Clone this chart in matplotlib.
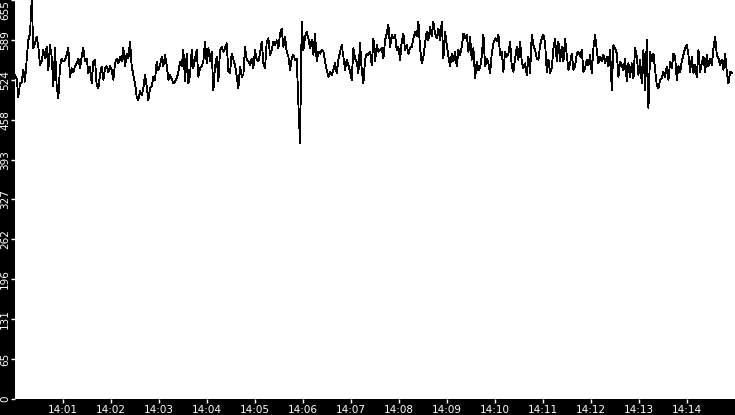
import numpy as np
import pandas as pd
import matplotlib
matplotlib.use("Agg")
import matplotlib.pyplot as plt
import matplotlib.dates as mdates

# samples, in order (about 2 s apart)
seg1 = [532, 526, 496, 518, 520, 540, 521, 557, 589, 600, 655, 576, 584, 595, 578, 548, 554, 573,
        559, 578, 540, 581, 562, 513, 576, 513, 494, 546, 559, 554, 557, 565, 576, 529, 543, 537,
        546, 551, 559, 543, 562, 576, 554, 559, 535, 546, 518, 554, 557, 515, 510, 532, 546, 524,
        543, 546, 537, 546, 540, 524, 551, 559, 551, 562, 554, 576, 546, 567, 559, 587, 546, 532,
        518, 496, 491, 505, 499, 510, 532, 513, 491, 510, 513, 529, 524, 554, 540, 548, 562, 546]
seg2 = [565, 548, 524, 532, 526, 518, 521, 526, 537, 554, 546, 573, 521, 567, 518, 532, 573, 543,
        559, 573, 529, 543, 546, 554, 587, 551, 576, 554, 570, 507, 546, 562, 521, 573, 578, 570,
        576, 584, 537, 535, 567, 557, 548, 529, 510, 546, 529, 532, 578, 557, 554, 548, 559, 543,
        573, 557, 554, 567, 587, 551, 543, 587, 592, 565, 573, 587, 581, 589, 576, 600, 608, 578,
        595, 570, 562, 540, 559, 565, 557, 559, 485, 420, 619, 573, 595, 603, 592, 576, 589, 565]
seg3 = [600, 554, 570, 567, 573, 570, 554, 540, 529, 537, 532, 540, 551, 535, 557, 570, 581, 562,
        540, 557, 548, 537, 524, 576, 559, 554, 535, 584, 540, 518, 557, 567, 565, 570, 548, 592,
        554, 581, 570, 573, 576, 559, 589, 600, 614, 578, 598, 592, 598, 573, 578, 557, 587, 600,
        573, 581, 567, 576, 578, 592, 603, 595, 619, 576, 551, 562, 584, 603, 589, 611, 595, 619,
        600, 592, 608, 589, 619, 559, 603, 581, 562, 546, 567, 554, 570, 546, 573, 565, 578, 600]
seg4 = [592, 598, 570, 595, 557, 576, 526, 554, 540, 543, 562, 598, 546, 559, 551, 535, 567, 584,
        592, 587, 598, 565, 570, 537, 570, 562, 567, 587, 546, 537, 559, 578, 557, 587, 554, 543,
        551, 532, 562, 535, 598, 581, 573, 559, 557, 581, 592, 598, 584, 537, 557, 535, 543, 576,
        592, 554, 587, 554, 578, 554, 592, 565, 540, 551, 567, 540, 546, 567, 570, 562, 573, 537,
        543, 557, 548, 565, 535, 576, 598, 573, 551, 562, 554, 565, 551, 562, 546, 573, 507, 581]
seg5 = [576, 567, 529, 554, 548, 540, 559, 521, 551, 529, 551, 526, 576, 562, 532, 557, 518, 573,
        507, 589, 477, 570, 554, 567, 540, 515, 510, 524, 526, 537, 529, 546, 524, 554, 543, 567,
        562, 524, 546, 537, 554, 565, 576, 581, 565, 537, 562, 535, 548, 529, 573, 537, 551, 562,
        537, 565, 546, 559, 548, 576, 595, 565, 559, 548, 557, 540, 567, 537, 518, 537, 535]

values = seg1 + seg2 + seg3 + seg4 + seg5
t_start = "2024-01-01 14:00:00"
t_last = "2024-01-01 14:14:56"
x_min, x_max = "2024-01-01 14:00:00", "2024-01-01 14:15:00"

y_ticks = list(np.linspace(0, 655, 11))
y_tick_labels = ["0", "65", "131", "196", "262", "327", "393", "458", "524", "589", "655"]

times = pd.date_range(t_start, t_last, periods=len(values))
x_ticks = pd.date_range("2024-01-01 14:01", "2024-01-01 14:14", freq="1min")

fig = plt.figure(figsize=(7.35, 4.15), dpi=100, facecolor="black")
ax = fig.add_axes([15 / 735, 16 / 415, 720 / 735, 399 / 415])
ax.set_facecolor("white")

ax.plot(times, values, color="black", lw=0.6, antialiased=False)

ax.set_xlim(pd.Timestamp(x_min), pd.Timestamp(x_max))
ax.set_ylim(0, 655)

ax.set_xticks(x_ticks)
ax.xaxis.set_major_formatter(mdates.DateFormatter("%H:%M"))
ax.set_yticks(y_ticks)
ax.set_yticklabels(y_tick_labels, rotation=90, va="center")
ax.get_yticklabels()[-1].set_va("top")

ax.tick_params(axis="both", colors="white", direction="out", length=3, width=1,
               labelsize=7.5, labelcolor="white")
ax.tick_params(axis="y", pad=0.5)
ax.tick_params(axis="x", pad=1)
for s in ax.spines.values():
    s.set_visible(False)

fig.savefig("out.png", dpi=100, facecolor="black")
